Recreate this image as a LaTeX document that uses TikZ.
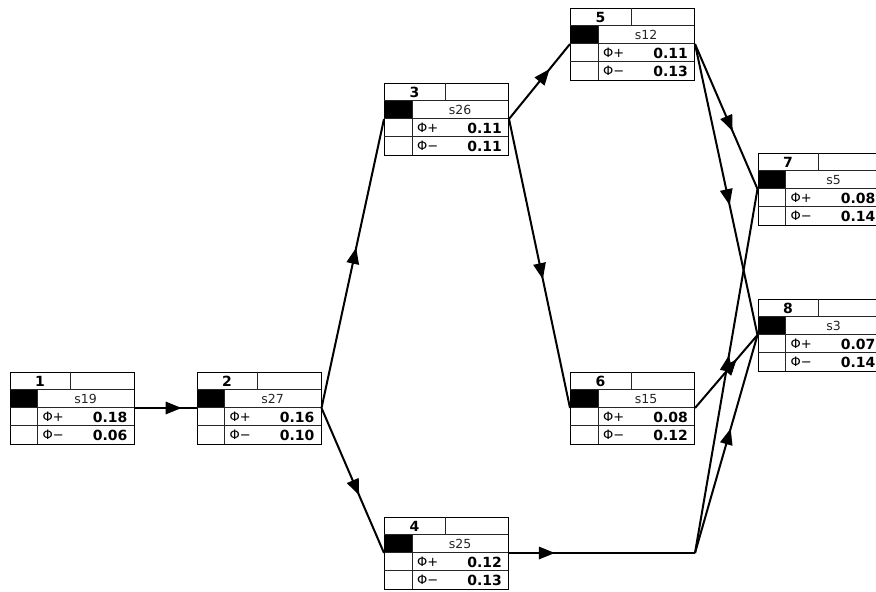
\documentclass[tikz,border=0pt]{standalone}
\usepackage{fontspec}
\setmainfont{DejaVu Sans}
\usetikzlibrary{decorations.markings}
\tikzset{
  pbox/.style={draw=black, line width=1pt, minimum width=124pt, minimum height=72pt, inner sep=0pt, fill=white},
  gridln/.style={line width=0.9pt, draw=black!85},
  numtxt/.style={font=\fontsize{14}{14}\selectfont\bfseries, inner sep=0pt},
  lbltxt/.style={font=\fontsize{12.5}{12.5}\selectfont, inner sep=0pt, text=black!85},
  phitxt/.style={font=\fontsize{13}{13}\selectfont, inner sep=0pt, anchor=west},
  valtxt/.style={font=\fontsize{14}{14}\selectfont\bfseries, inner sep=0pt, anchor=east},
  conn/.style={line width=2pt, postaction={decorate}, decoration={markings, mark=at position #1 with {\fill (0pt,-6.5pt) -- (16pt,0pt) -- (0pt,6.5pt) -- cycle;}}},
  conn/.default=0.5,
}
\newcommand\promnode[7]{%
  \node[pbox] (#1) at (#2,#3) {};
  \begin{scope}[shift={(#1.north west)}]
    \fill (0,18) rectangle (28,36);
    \draw[gridln] (0,18) -- (124,18) (0,36) -- (124,36) (0,54) -- (124,54)
                  (61,0) -- (61,18) (28,18) -- (28,72);
    \node[numtxt] (#1-num) at (30.5,9.5) {#4};
    \node[lbltxt] (#1-lbl) at (76,27.5) {#5};
    \node[phitxt] (#1-p) at (33,45.5) {Φ+};
    \node[valtxt] (#1-pv) at (118,45.5) {#6};
    \node[phitxt] (#1-m) at (33,63.5) {Φ−};
    \node[valtxt] (#1-mv) at (118,63.5) {#7};
  \end{scope}
}
\begin{document}
\begin{tikzpicture}[x=1pt, y=-1pt]
\useasboundingbox (0,0) rectangle (876,592);
\clip (0,0) rectangle (876,592);
\fill[white] (0,0) rectangle (876,592);
\promnode{n1}{72}{408}{1}{s19}{0.18}{0.06}
\promnode{n2}{259}{408}{2}{s27}{0.16}{0.10}
\promnode{n3}{446.5}{119}{3}{s26}{0.11}{0.11}
\promnode{n4}{446.5}{553}{4}{s25}{0.12}{0.13}
\promnode{n5}{632.5}{44}{5}{s12}{0.11}{0.13}
\promnode{n6}{632.5}{408}{6}{s15}{0.08}{0.12}
\promnode{n7}{820}{189}{7}{s5}{0.08}{0.14}
\promnode{n8}{820}{335}{8}{s3}{0.07}{0.14}
\coordinate (b4) at (n6.east |- n4.east);
\draw[conn] (n1.east) -- (n2.west);
\draw[conn] (n2.east) -- (n3.west);
\draw[conn] (n2.east) -- (n4.west);
\draw[conn] (n3.east) -- (n5.west);
\draw[conn] (n3.east) -- (n6.west);
\draw[conn] (n5.east) -- (n7.west);
\draw[conn] (n5.east) -- (n8.west);
\draw[conn] (n6.east) -- (n8.west);
\draw[conn=0.16] (n4.east) -- (b4);
\draw[conn] (b4) -- (n7.west);
\draw[conn] (b4) -- (n8.west);
\end{tikzpicture}
\end{document}
